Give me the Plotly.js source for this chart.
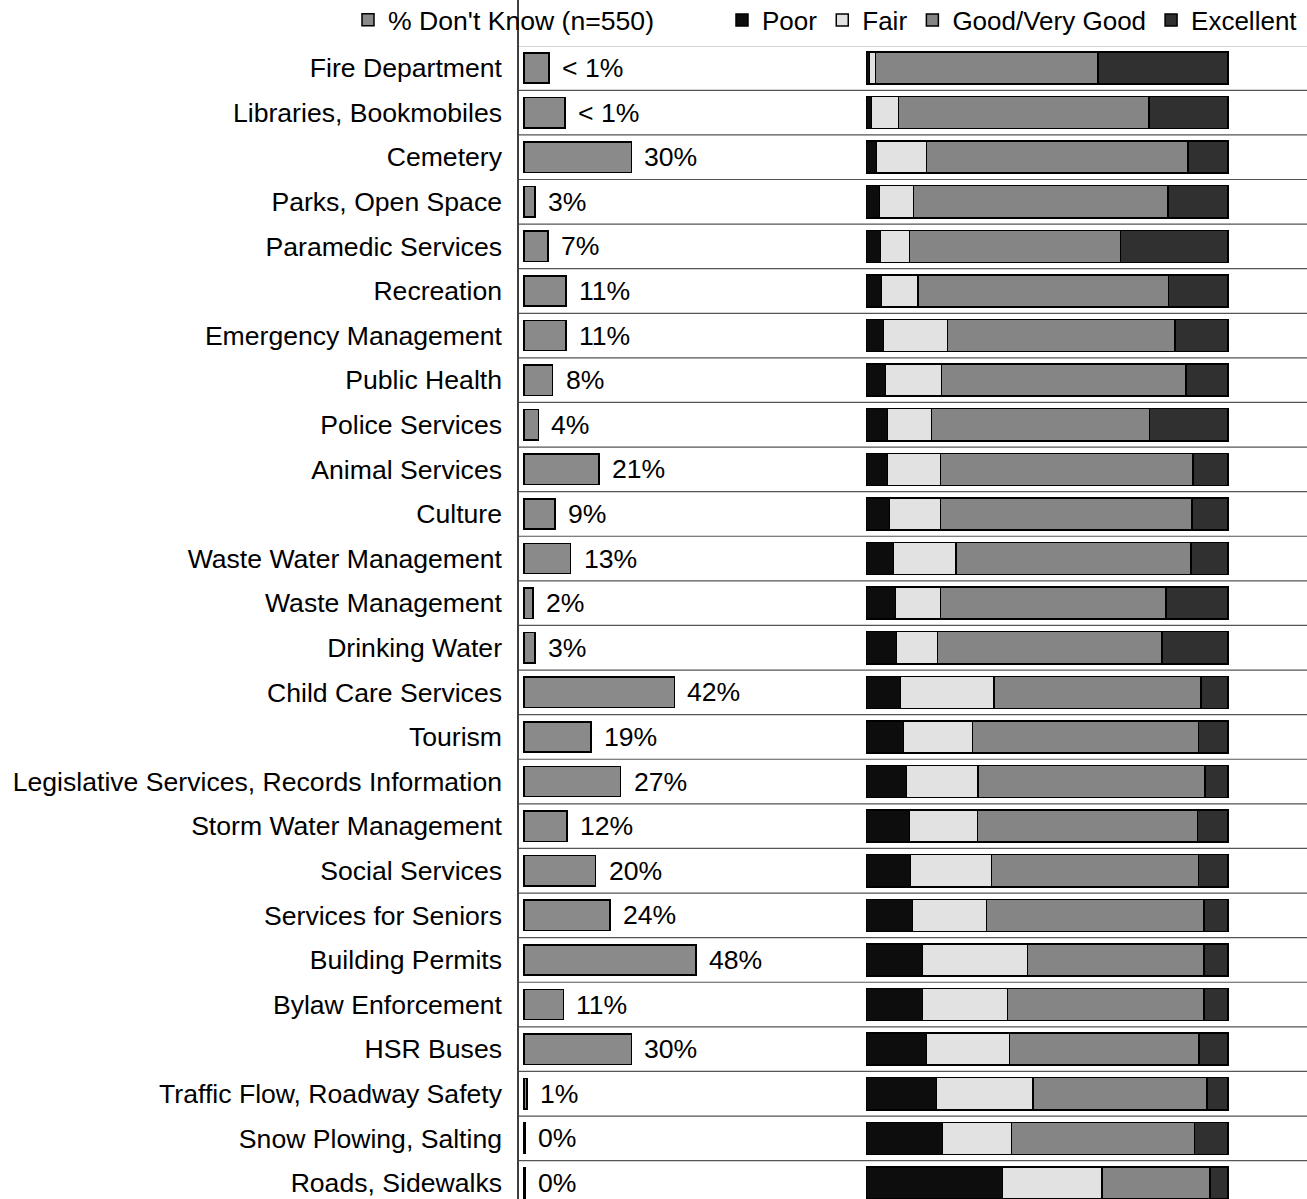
<!DOCTYPE html>
<html>
<head>
<meta charset="utf-8">
<script src="https://cdn.plot.ly/plotly-3.0.1.min.js"></script>
<style>html,body{margin:0;padding:0;background:#fff;}</style>
</head>
<body>
<div id="chart" style="width:1307px;height:1199px;"></div>
<script>
const categories = [
  "Fire Department", "Libraries, Bookmobiles", "Cemetery", "Parks, Open Space",
  "Paramedic Services", "Recreation", "Emergency Management", "Public Health",
  "Police Services", "Animal Services", "Culture", "Waste Water Management",
  "Waste Management", "Drinking Water", "Child Care Services", "Tourism",
  "Legislative Services, Records Information", "Storm Water Management",
  "Social Services", "Services for Seniors", "Building Permits",
  "Bylaw Enforcement", "HSR Buses", "Traffic Flow, Roadway Safety",
  "Snow Plowing, Salting", "Roads, Sidewalks"
];
// Don't know bar lengths as drawn in the picture (%)
const dontKnow = [7, 11.5, 30, 3, 6.7, 11.7, 11.7, 8, 4, 21, 8.7, 13, 2.5, 3, 42, 18.7, 27, 12, 20, 24, 48, 11, 30, 0.8, 0.3, 0.3];
const dontKnowLabels = ["< 1%", "< 1%", "30%", "3%", "7%", "11%", "11%", "8%", "4%", "21%", "9%", "13%", "2%", "3%", "42%", "19%", "27%", "12%", "20%", "24%", "48%", "11%", "30%", "1%", "0%", "0%"];
const poor      = [0.8, 1.4, 2.8, 3.6, 3.9, 4.2, 4.7, 5.3, 5.8, 5.8, 6.4, 7.5, 8.0, 8.3, 9.4, 10.2, 11.1, 11.9, 12.2, 12.7, 15.5, 15.5, 16.6, 19.4, 21.0, 37.6];
const fair      = [1.7, 7.5, 13.8, 9.4, 8.0, 10.0, 17.7, 15.5, 12.2, 14.7, 14.1, 17.2, 12.5, 11.4, 25.8, 19.1, 19.7, 18.8, 22.4, 20.5, 29.0, 23.5, 23.0, 26.6, 19.1, 27.6];
const good      = [61.5, 69.3, 72.4, 70.4, 58.4, 69.3, 62.9, 67.6, 60.3, 69.8, 69.5, 65.1, 62.3, 62.0, 57.3, 62.6, 62.8, 60.9, 57.3, 60.1, 48.9, 54.4, 52.4, 48.2, 50.6, 29.8];
const excellent = [36.0, 21.8, 11.0, 16.6, 29.7, 16.5, 14.7, 11.6, 21.7, 9.7, 10.0, 10.2, 17.2, 18.3, 7.5, 8.1, 6.4, 8.4, 8.1, 6.7, 6.6, 6.6, 8.0, 5.8, 9.3, 5.0];

const FONT = "Liberation Sans, Arial, sans-serif";
const FS = 26.6;
const W = 1307, H = 1199, TOP = 46;
const line = {color: "#000", width: 1.5};

const traces = [
  {type: "bar", orientation: "h", name: "% Don't Know (n=550)", y: categories, x: dontKnow,
   xaxis: "x", yaxis: "y", width: 0.68, legend: "legend",
   marker: {color: "#8a8a8a", line: line}, hoverinfo: "x+y"},
  {type: "bar", orientation: "h", name: "Poor", y: categories, x: poor,
   xaxis: "x2", yaxis: "y", width: 0.72, legend: "legend2",
   marker: {color: "#0d0d0d", line: line}},
  {type: "bar", orientation: "h", name: "Fair", y: categories, x: fair,
   xaxis: "x2", yaxis: "y", width: 0.72, legend: "legend2",
   marker: {color: "#e2e2e2", line: line}},
  {type: "bar", orientation: "h", name: "Good/Very Good", y: categories, x: good,
   xaxis: "x2", yaxis: "y", width: 0.72, legend: "legend2",
   marker: {color: "#858585", line: line}},
  {type: "bar", orientation: "h", name: "Excellent", y: categories, x: excellent,
   xaxis: "x2", yaxis: "y", width: 0.72, legend: "legend2",
   marker: {color: "#303030", line: line}}
];

const annotations = categories.map((c, i) => ({
  x: dontKnow[i], y: c, xref: "x", yref: "y", text: dontKnowLabels[i],
  xanchor: "left", yanchor: "middle", xshift: 11, showarrow: false,
  font: {family: FONT, size: FS, color: "#000"}
}));

const shapes = [];
// vertical axis line through whole height
shapes.push({type: "line", xref: "paper", yref: "paper",
  x0: 518 / W, x1: 518 / W, y0: -0.01, y1: 1 + TOP / (H - TOP) + 0.01,
  line: {color: "#000", width: 1.5}});
// row separators
for (let i = 0; i <= categories.length; i++) {
  shapes.push({type: "line", xref: "paper", yref: "y",
    x0: 519 / W, x1: 1, y0: i - 0.5, y1: i - 0.5,
    line: {color: "#555", width: 1.2}});
}

const legendY = 1 + (TOP - 20) / (H - TOP);
const layout = {
  width: W, height: H,
  margin: {l: 0, r: 0, t: TOP, b: 0, pad: 0, autoexpand: false},
  paper_bgcolor: "#fff", plot_bgcolor: "rgba(0,0,0,0)",
  font: {family: FONT, size: FS, color: "#000"},
  barmode: "stack",
  bargap: 0.3,
  showlegend: true,
  xaxis: {domain: [519 / W, 860 / W], range: [-1.4, 93.85], visible: false, fixedrange: true},
  xaxis2: {domain: [860 / W, 1], range: [-1.8, 121.86], visible: false, anchor: "y", fixedrange: true},
  yaxis: {type: "category", range: [25.36, -0.493], autorange: false, showgrid: false,
          zeroline: false, showline: false, ticks: "", ticklabelstandoff: 16,
          tickfont: {family: FONT, size: FS, color: "#000"}, fixedrange: true},
  legend: {orientation: "h", x: 348 / W, xanchor: "left", y: legendY, yanchor: "middle",
           font: {family: FONT, size: FS, color: "#000"}, bgcolor: "rgba(0,0,0,0)", itemclick: false},
  legend2: {orientation: "h", x: 722 / W, xanchor: "left", y: legendY, yanchor: "middle",
           font: {family: FONT, size: 26, color: "#000"}, bgcolor: "rgba(0,0,0,0)", itemclick: false,
           traceorder: "normal"},
  annotations: annotations,
  shapes: shapes
};

Plotly.newPlot("chart", traces, layout, {displayModeBar: false});
</script>
</body>
</html>
